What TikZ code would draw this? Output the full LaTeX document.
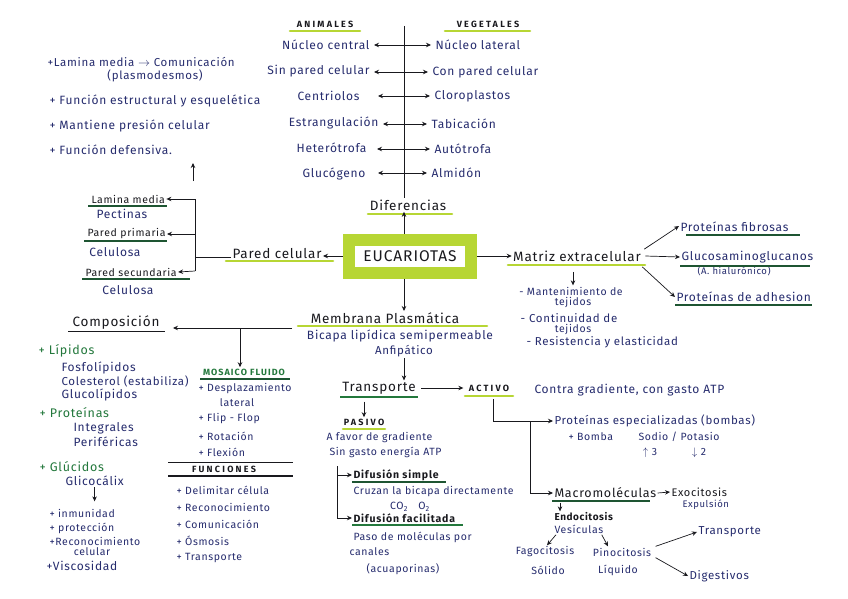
\documentclass[tikz,border=0pt]{standalone}
\usepackage{fontspec}
\setmainfont{Fira Sans}[LetterSpace=6]
\usetikzlibrary{arrows.meta,calc}
\definecolor{ink}{RGB}{38,44,110}
\definecolor{blk}{RGB}{25,25,30}
\definecolor{grn}{RGB}{35,120,60}
\definecolor{lime}{RGB}{183,214,52}
\definecolor{dgrn}{RGB}{30,85,50}
\begin{document}
\begin{tikzpicture}[x=1pt,y=-1pt,
  every node/.style={inner sep=0pt, outer sep=1.5pt, text=ink, font=\fontsize{12}{14}\selectfont},
  t/.style={anchor=west},
  sm/.style={font=\fontsize{10.5}{12}\selectfont},
  md/.style={font=\fontsize{11.5}{13}\selectfont},
  ttl/.style={text=blk, font=\fontsize{13.5}{15}\selectfont},
  hcap/.style={text=blk, font=\fontsize{9}{11}\selectfont\bfseries\addfontfeature{LetterSpace=25}},
  bt/.style={text=blk, font=\fontsize{10.5}{12}\selectfont\bfseries\addfontfeature{LetterSpace=8}},
  gr/.style={text=grn, font=\fontsize{12.5}{14}\selectfont},
  hl/.style={draw=lime, line width=2.6pt, line cap=round},
  ul/.style={draw=dgrn, line width=1.2pt},
  ulk/.style={draw=blk, line width=1pt},
  arr/.style={-{Stealth[length=5pt,width=4.5pt]}, draw=blk, line width=0.7pt},
  darr/.style={{Stealth[length=5pt,width=4.5pt]}-{Stealth[length=5pt,width=4.5pt]}, draw=blk, line width=0.7pt, shorten <=3pt, shorten >=3pt},
  ln/.style={draw=blk, line width=0.8pt}
]
\useasboundingbox (0,0) rectangle (848,599);
\fill[white] (0,0) rectangle (848,599);

% ---------- Diferencias ----------
\node[hcap] (anim) at (325,24) {ANIMALES};
\node[hcap] (veg) at (488,24) {VEGETALES};
\draw[hl] (290,31) -- (360,31);
\draw[hl] (445,31) -- (530,31);

\node[anchor=east] (l1) at (371,45) {Núcleo central};
\node[anchor=east] (l2) at (371,71) {Sin pared celular};
\node[anchor=east] (l3) at (361,96) {Centriolos};
\node[anchor=east] (l4) at (380,123) {Estrangulación};
\node[anchor=east] (l5) at (368,148) {Heterótrofa};
\node[anchor=east] (l6) at (367,174) {Glucógeno};
\node[t] (r1) at (434,45) {Núcleo lateral};
\node[t] (r2) at (431,72) {Con pared celular};
\node[t] (r3) at (433,96) {Cloroplastos};
\node[t] (r4) at (430,124) {Tabicación};
\node[t] (r5) at (433,149) {Autótrofa};
\node[t] (r6) at (430,173) {Almidón};

\node[ttl] (dif) at (408,205) {Diferencias};
\draw[hl] (368,214) -- (452,214);
\coordinate (vtop) at (404,26);
\draw[ln] (vtop) -- (vtop |- dif.north);

\draw[darr] (l1.east |- r1.west) -- (r1.west);
\draw[darr] (l2.east |- r2.west) -- (r2.west);
\draw[darr] (l3.east |- r3.west) ++(14,0) -- (r3.west);
\draw[darr] (l4.east |- r4.west) -- (r4.west);
\draw[darr] (l5.east |- r5.west) ++(6,0) -- (r5.west);
\draw[darr] (l6.east |- r6.west) ++(8,0) -- (r6.west);

% ---------- Eucariotas ----------
\node[draw=lime, fill=white, line width=12pt, minimum width=122pt, minimum height=33pt,
      outer sep=6pt, text=blk, font=\fontsize{15.5}{17}\selectfont] (euc) at (410,256) {EUCARIOTAS};
\draw[arr] (euc.north -| vtop) -- (dif.south -| vtop);

% ---------- Pared celular ----------
\node[ttl] (pc) at (277,254) {Pared celular};
\draw[hl] (226,261) -- (333,261);
\draw[arr] (euc.west) -- (pc.east |- euc.west);

\node[t, text=blk, sm] (lm) at (90,199) {Lamina media};
\node (pec) at (122,214) {Pectinas};
\node[t, text=blk, sm] (pp) at (86,234) {Pared primaria};
\node (cel1) at (115,252) {Celulosa};
\node[t, text=blk, sm] (ps) at (84,272) {Pared secundaria};
\node (cel2) at (128,290) {Celulosa};
\draw[ul] (88,206) -- (167,206);
\draw[ul] (84,241) -- (167,241);
\draw[ul] (82,279) -- (190,279);

\coordinate (b1) at (195,199);
\coordinate (b2) at (195,234);
\coordinate (b3) at (195,271);
\coordinate (bj) at (195,257);
\draw[ln] (b1) -- (b3);
\draw[ln] (pc.west |- bj) -- (bj);
\draw[arr] (b1) -- (lm.east);
\draw[arr] (b2) -- (pp.east);
\draw[arr] (b3) -- (ps.east);
\coordinate (bu1) at (193,181);
\coordinate (bu2) at (193,163);
\draw[arr] (bu1) -- (bu2);

\node[t, md] (f1) at (46,62) {+Lamina media \(\rightarrow\) Comunicación};
\node[md] (f1b) at (155,76) {(plasmodesmos)};
\node[t] (f2) at (48,101) {+ Función estructural y esquelética};
\node[t] (f3) at (48,126) {+ Mantiene presión celular};
\node[t] (f4) at (48,150) {+ Función defensiva.};

% ---------- Matriz extracelular ----------
\node[ttl] (mat) at (577,256) {Matriz extracelular};
\draw[hl] (508,265) -- (645,265);
\draw[arr] (euc.east) -- (mat.west |- euc.east);

\node[t] (pf) at (679,227) {Proteínas fibrosas};
\node[t] (gag) at (680,257) {Glucosaminoglucanos};
\node[t, font=\fontsize{9.5}{11}\selectfont] (ah) at (696,271) {(A. hialurónico)};
\node[t] (pa) at (675,297) {Proteínas de adhesion};
\draw[ul] (686,235) -- (800,235);
\draw[ul] (680,266) -- (810,266);
\draw[ul] (675,305) -- (812,305);
\draw[arr] ([xshift=2pt]mat.north east) -- ([yshift=1pt]pf.west);
\draw[arr] ([xshift=3pt]mat.east) -- (gag.west);
\draw[arr] ([xshift=0pt,yshift=-4pt]mat.south east) -- (pa.west);

\node[sm] (mt1) at (571,291) {- Mantenimiento de};
\node[sm] (mt2) at (573,303) {tejidos};
\node[md] (mt3) at (569,318) {- Continuidad de};
\node[sm] (mt4) at (573,330) {tejidos};
\node[t, md] (mt5) at (525,342) {- Resistencia y elasticidad};
\draw[arr] ([yshift=-9pt]mat.south -| mt2.north) -- (mt1.north -| mt2.north);

% ---------- Membrana plasmatica ----------
\node[ttl] (memb) at (385,318) {Membrana Plasmática};
\draw[hl] (298,326) -- (487,326);
\draw[arr] (euc.south -| vtop) -- (memb.north -| vtop);
\node (bic) at (400,336) {Bicapa lipídica semipermeable};
\node[md] (anf) at (404,351) {Anfipático};

\node[ttl] (comp) at (116,323) {Composición};
\draw[ulk] (68,331) -- (165,331);
\coordinate (mL) at (292,328);
\coordinate (mJ) at (240,328);
\draw[arr] (mL) -- ([xshift=12pt]comp.east |- mL);

\node[t, gr] (lip) at (37,351) {+ Lípidos};
\node[t] (fos) at (60,368) {Fosfolípidos};
\node[t, md] (col) at (60,381) {Colesterol (estabiliza)};
\node[t] (glu) at (60,395) {Glucolípidos};
\node[t, gr] (prot) at (38,413) {+ Proteínas};
\node[t] (integ) at (72,428) {Integrales};
\node[t] (perif) at (72,442) {Periféricas};
\node[t, gr] (gluc) at (38,467) {+ Glúcidos};
\node[t] (glic) at (64,481) {Glicocálix};
\node[t, sm] (inm) at (48,513) {+ inmunidad};
\node[t, sm] (protc) at (48,528) {+ protección};
\node[t, sm] (rec) at (48,541) {+Reconocimiento};
\node[sm] (recc) at (92,552) {celular};
\node[t] (visc) at (45,566) {+Viscosidad};
\draw[arr, shorten >=6pt] (glic.south) -- (glic.south |- inm.north);

\node[font=\fontsize{9}{11}\selectfont\bfseries\addfontfeature{LetterSpace=12}, text=grn] (mos) at (244,372) {MOSAICO FLUIDO};
\draw[ul] (200,379) -- (290,379);
\draw[arr] (mJ) -- (mJ |- mos.north);
\node[t, sm] (ds) at (197,389) {+ Desplazamiento};
\node[sm] (dsl) at (237,403) {lateral};
\node[t, sm] (ff) at (197,419) {+ Flip - Flop};
\node[t, sm] (rot) at (197,436) {+ Rotación};
\node[t, sm] (flex) at (197,452) {+ Flexión};
\draw[ulk] (168,462) -- (293,462);
\node[hcap] (fun) at (224,469) {FUNCIONES};
\draw[draw=blk, line width=1.4pt] (168,476) -- (293,476);
\node[t, sm] (fn1) at (175,490) {+ Delimitar célula};
\node[t, sm] (fn2) at (175,507) {+ Reconocimiento};
\node[t, sm] (fn3) at (175,524) {+ Comunicación};
\node[t, sm] (fn4) at (175,541) {+ Ósmosis};
\node[t, sm] (fn5) at (175,558) {+ Transporte};

% ---------- Transporte ----------
\node[ttl] (tr) at (379,388) {Transporte};
\draw[draw=grn, line width=1.5pt] (340,397) -- (418,397);
\draw[arr] (anf.south) -- (anf.south |- tr.north);
\node[hcap] (act) at (489,388) {ACTIVO};
\draw[hl] (465,396) -- (513,396);
\draw[arr] ([xshift=4pt]tr.east) -- ([xshift=-4pt]act.west);
\node[t] (cg) at (533,390) {Contra gradiente, con gasto ATP};

\node[hcap] (pas) at (364,422) {PASIVO};
\draw[hl] (343,429) -- (385,429);
\draw[arr] ([yshift=-6pt]tr.south -| pas.north) -- (pas.north);
\node[t, sm] (fav) at (325,438) {A favor de gradiente};
\node[t, sm] (sga) at (328,452) {Sin gasto energía ATP};

\coordinate (pb1) at (337,466);
\coordinate (pb2) at (337,475);
\coordinate (pb3) at (337,518);
\node[t, bt] (dsim) at (352,475) {Difusión simple};
\draw[ul] (352,482) -- (446,482);
\node[t, sm] (cruz) at (352,492) {Cruzan la bicapa directamente};
\node[sm] (co) at (410,507) {CO\textsubscript{2}\quad O\textsubscript{2}};
\node[t, bt] (dfac) at (352,518) {Difusión facilitada};
\draw[draw=grn, line width=1.3pt] (352,525) -- (463,525);
\node[t, sm] (paso) at (352,537) {Paso de moléculas por};
\node[t, sm] (can) at (348,552) {canales};
\node[t, sm] (acu) at (365,569) {(acuaporinas)};
\draw[ln] (pb1) -- (pb3);
\draw[arr] (pb2) -- (dsim.west);
\draw[arr] (pb3) -- (dfac.west);

% ---------- Activo ----------
\node[t, md] (pe) at (553,421) {Proteínas especializadas (bombas)};
\node[t, sm] (bom) at (567,437) {+ Bomba};
\node[t, sm] (sp) at (637,437) {Sodio / Potasio};
\node[sm] (u3) at (650,453) {\(\uparrow\) 3};
\node[sm] (d2) at (699,453) {\(\downarrow\) 2};
\coordinate (a1) at (493,399);
\coordinate (a3) at (530,421);
\draw[arr] (a1) |- (pe.west);

\node[t, ttl, font=\fontsize{12.5}{14}\selectfont] (macro) at (553,493) {Macromoléculas};
\draw[ul] (552,501) -- (650,501);
\draw[arr] (a3) |- (macro.west);
\node[t, text=blk, font=\fontsize{11}{13}\selectfont] (exo) at (670,492) {Exocitosis};
\draw[arr] (macro.east) -- (exo.west);
\node[t, font=\fontsize{9.5}{11}\selectfont] (expu) at (681,505) {Expulsión};
\node[t, bt, font=\fontsize{10}{12}\selectfont\bfseries] (endo) at (553,517) {Endocitosis};
\draw[arr] ([xshift=7pt,yshift=-3pt]macro.south west) -- ([xshift=7pt]endo.north west);
\node[t, sm] (ves) at (553,529) {Vesículas};
\node[sm] (fag) at (545,552) {Fagocitosis};
\node[sm] (sol) at (548,570) {Sólido};
\node[sm] (pino) at (622,552) {Pinocitosis};
\node[sm] (liq) at (618,570) {Líquido};
\draw[arr] ([xshift=3pt]ves.south west) -- ([xshift=2pt]fag.north);
\draw[arr] ([xshift=-3pt]ves.south east) -- ([xshift=-14pt]pino.north);
\node[t, md] (tra2) at (697,532) {Transporte};
\node[t, md] (dig) at (688,576) {Digestivos};
\draw[arr] ([xshift=3pt]pino.north east) -- (tra2.west);
\draw[arr] ([xshift=3pt]pino.south east) -- (dig.west);
\end{tikzpicture}
\end{document}
